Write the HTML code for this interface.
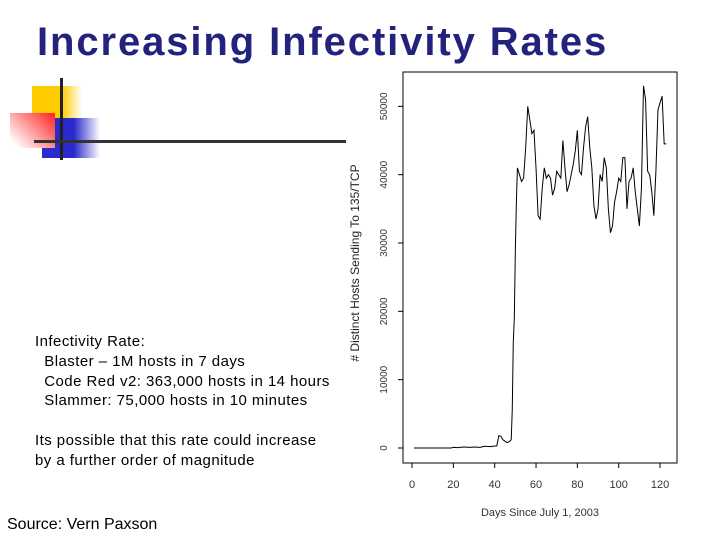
<!DOCTYPE html>
<html><head><meta charset="utf-8"><style>
body{margin:0;width:720px;height:540px;background:#fff;position:relative;overflow:hidden;font-family:"Liberation Sans",sans-serif}
.t{position:absolute;white-space:pre;color:#000}
</style></head><body>
<div class="t" style="left:37px;top:20px;font-size:40px;font-weight:bold;color:#23237e;letter-spacing:1.9px">Increasing Infectivity Rates</div>
<div style="position:absolute;left:32px;top:86px;width:50px;height:45px;background:linear-gradient(90deg,#ffcc00 60%,#fff)"></div>
<div style="position:absolute;left:42px;top:118px;width:58px;height:40px;background:linear-gradient(90deg,#2b2bcc 55%,#fff)"></div>
<div style="position:absolute;left:10px;top:113px;width:45px;height:35px;background:linear-gradient(225deg,#ff2020,#fff 90%)"></div>
<div style="position:absolute;left:60px;top:78px;width:3px;height:82px;background:#222"></div>
<div style="position:absolute;left:34px;top:140px;width:312px;height:3px;background:#333"></div>
<div class="t" style="left:35px;top:332px;font-size:15px;line-height:19.8px;letter-spacing:0.45px">Infectivity Rate:
  Blaster – 1M hosts in 7 days
  Code Red v2: 363,000 hosts in 14 hours
  Slammer: 75,000 hosts in 10 minutes

Its possible that this rate could increase
by a further order of magnitude</div>
<div class="t" style="left:7px;top:516px;font-size:16px">Source: Vern Paxson</div>
<svg id="c" width="720" height="540" style="position:absolute;left:0;top:0" font-family="Liberation Sans, sans-serif"></svg>
<script>
const days=[1,5,10,15,19,20,22,25,28,30,33,35,38,40,41,42,43,44,45,46,47,48,48.5,49,49.5,50,50.5,51,52,53,54,55,56,57,58,59,60,61,62,63,64,65,66,67,68,69,70,71,72,73,74,75,76,77,78,79,80,81,82,83,84,85,86,87,88,89,90,91,92,93,94,95,96,97,98,99,100,101,102,103,104,105,106,107,108,109,110,111,112,113,114,115,116,117,118,119,120,121,122,123];
const hosts=[0,0,0,0,0,100,50,150,100,150,100,250,200,300,300,1800,1700,1200,1000,800,900,1200,5500,15500,19000,29000,36000,41000,40000,39000,39500,44000,50000,48000,46000,46500,41000,34000,33500,38000,41000,39500,40000,39500,37000,38000,40500,40000,39500,45000,41000,37500,38500,40000,41500,43500,46500,40500,40000,44000,47000,48500,44000,41000,35500,33500,35000,40000,39000,42500,41000,35000,31500,32500,36000,37500,39500,39000,42500,42500,35000,39000,39500,41000,37500,35000,32500,38000,53000,51000,40500,40000,37500,34000,40500,49500,50500,51500,44500,44500];
const xTicks=[0,20,40,60,80,100,120];
const yTicks=[0,10000,20000,30000,40000,50000];
const svg=document.getElementById('c'),NS='http://www.w3.org/2000/svg';
const X=d=>412+d*2.067, Y=v=>448-v*0.006833;
function mk(t,a,p){const e=document.createElementNS(NS,t);for(const k in a)e.setAttribute(k,a[k]);(p||svg).appendChild(e);return e;}
const f=mk('rect',{x:403,y:72,width:274,height:391,fill:'none',stroke:'#000','stroke-width':1});


xTicks.forEach(t=>{const l=mk('line',{x1:X(t),x2:X(t),y1:463,y2:468,stroke:'#000'});


const s=mk('text',{x:X(t),y:488,'font-size':11,'text-anchor':'middle',fill:'#333'});s.textContent=t;

});
yTicks.forEach(t=>{const l=mk('line',{x1:398,x2:403,y1:Y(t),y2:Y(t),stroke:'#000'});


const s=mk('text',{x:0,y:0,'font-size':10,'text-anchor':'middle',fill:'#333',transform:`translate(387,${Y(t)}) rotate(-90)`});s.textContent=t;

});
const xl=mk('text',{x:540,y:516,'font-size':11,'text-anchor':'middle',fill:'#333'});xl.textContent='Days Since July 1, 2003';


const yl=mk('text',{x:0,y:0,'font-size':12,'text-anchor':'middle',fill:'#222',transform:'translate(359,263) rotate(-90)'});yl.textContent='# Distinct Hosts Sending To 135/TCP';


const p=mk('polyline',{points:days.map((d,i)=>X(d)+','+Y(hosts[i])).join(' '),fill:'none',stroke:'#000','stroke-width':1});


</script>
</body></html>
